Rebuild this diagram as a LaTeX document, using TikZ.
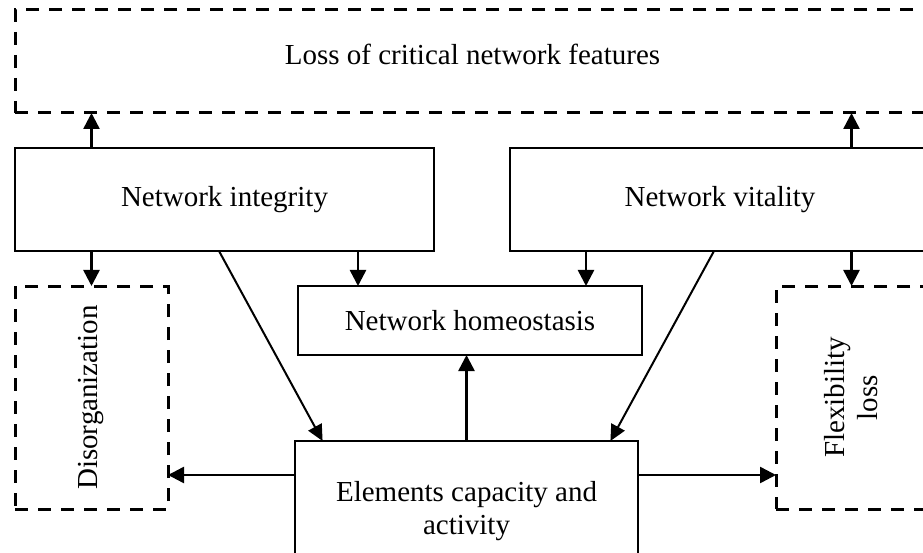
\documentclass[tikz,border=0pt]{standalone}
\usepackage{fontspec}
\setmainfont{Liberation Serif}
\usetikzlibrary{arrows.meta,calc}
\begin{document}
\begin{tikzpicture}[x=1pt,y=-1pt,
  txt/.style={inner sep=0pt, align=center, font=\fontsize{29}{33}\selectfont},
  box/.style={txt, draw, line width=2.5pt, outer sep=0pt},
  dbox/.style={box, line width=3pt, dash pattern=on 13pt off 10pt},
  arr/.style={line width=2.5pt, -{Triangle[length=16pt,width=16pt]}},
  darr/.style={line width=2pt, -{Triangle[length=16pt,width=15pt]}},
  ]
\useasboundingbox (0,0) rectangle (923,553);
% boxes
\node[dbox, minimum width=915pt, minimum height=103pt] (loss) at (472.5,61.5) {};
\node[txt, anchor=base] (losst) at (472.5,65) {Loss of critical network features};
\node[box, minimum width=419pt, minimum height=103pt] (integ) at (224.5,199.5) {Network integrity};
\node[box, minimum width=420pt, minimum height=103pt] (vital) at (720,199.5) {Network vitality};
\node[box, minimum width=344pt, minimum height=69pt] (homeo) at (470,320.5) {Network homeostasis};
\node[dbox, minimum width=153pt, minimum height=223pt] (dis) at (91.5,397.5) {};
\node[txt, rotate=90] (dist) at (dis.center) {Disorganization};
\node[dbox, minimum width=151pt, minimum height=223pt] (flex) at (851.5,397.5) {};
\node[txt, rotate=90] (flext) at (flex.center) {Flexibility\\loss};
\node[box, minimum width=343pt, minimum height=140pt] (elem) at (466.5,511) {Elements capacity and\\activity};
% connectors
\draw[arr] (integ.north -| dis.north) -- (loss.south -| dis.north);
\draw[arr] (vital.north -| flex.north) -- (loss.south -| flex.north);
\draw[arr] (integ.south -| dis.north) -- (dis.north);
\draw[arr] (vital.south -| flex.north) -- (flex.north);
\draw[arr] ([xshift=-112pt]homeo.north |- integ.south) -- ([xshift=-112pt]homeo.north);
\draw[arr] ([xshift=116pt]homeo.north |- vital.south) -- ([xshift=116pt]homeo.north);
\draw[arr] (elem.north) -- (homeo.south -| elem.north);
\draw[darr] ([xshift=204pt]integ.south west) -- ([xshift=27.6pt]elem.north west);
\draw[darr] ([xshift=204pt]vital.south west) -- ([xshift=-27.6pt]elem.north east);
\coordinate (ey) at ([yshift=-34pt]elem.north);
\draw[arr] (elem.west |- ey) -- (dis.east |- ey);
\draw[arr] (elem.east |- ey) -- (flex.west |- ey);
\end{tikzpicture}
\end{document}
